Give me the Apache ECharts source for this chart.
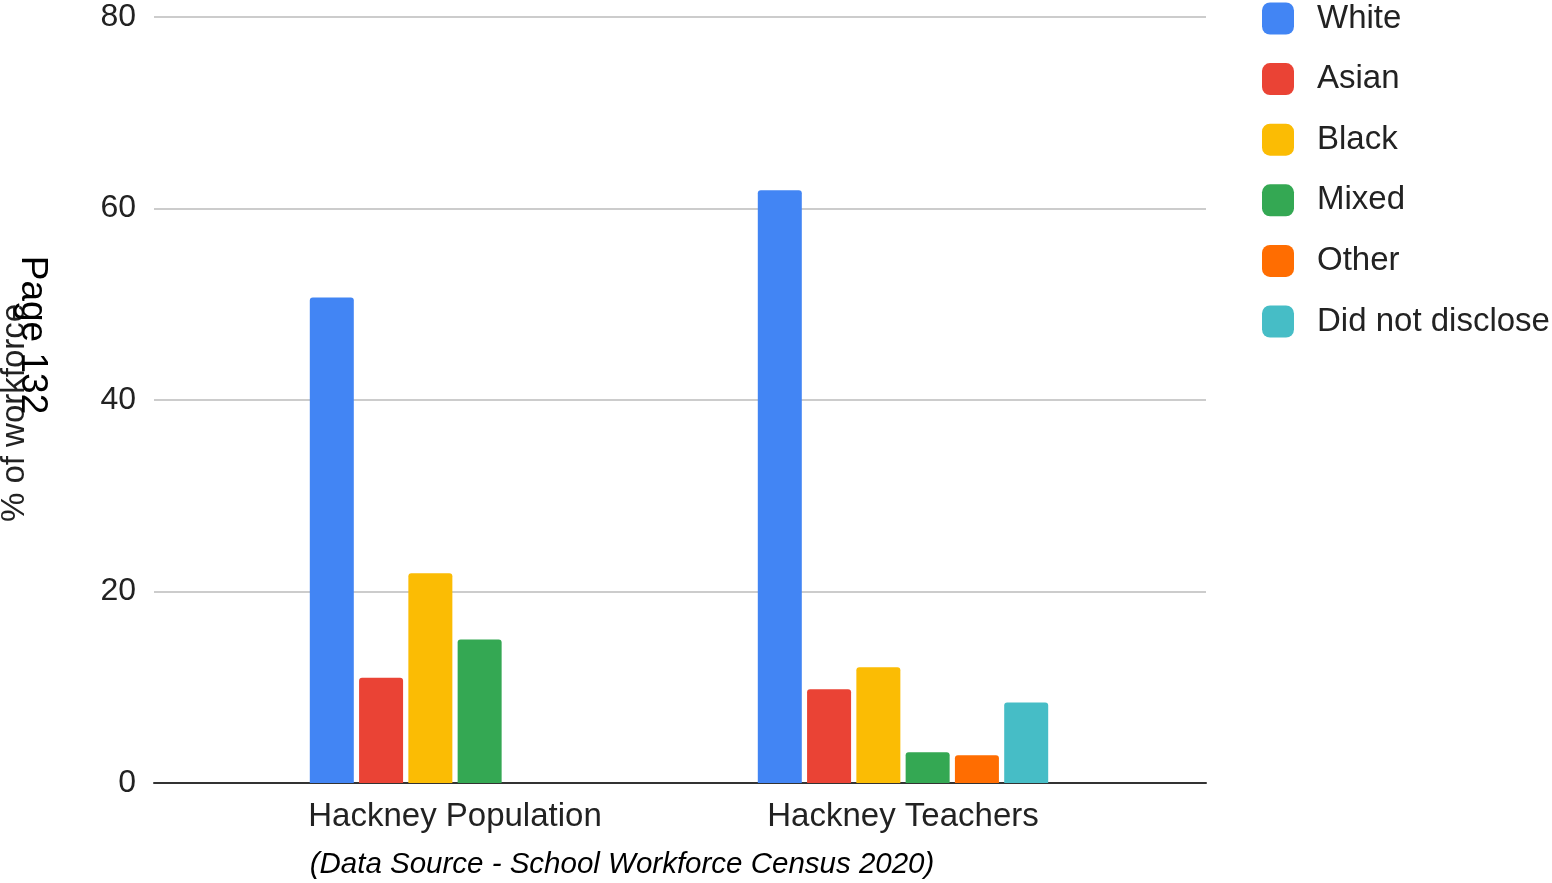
<!DOCTYPE html>
<html>
<head>
<meta charset="utf-8">
<style>
html,body{margin:0;padding:0;background:#fff;}
#chart{width:1552px;height:883px;}
</style>
<script src="https://cdn.jsdelivr.net/npm/echarts@6/dist/echarts.min.js"></script>
</head>
<body>
<div id="chart"></div>
<script>
const categories = ['Hackney Population', 'Hackney Teachers'];
const seriesNames = ['White', 'Asian', 'Black', 'Mixed', 'Other', 'Did not disclose'];
const white = [50.7, 61.9];
const asian = [11.0, 9.8];
const black = [21.9, 12.1];
const mixed = [15.0, 3.2];
const other = [null, 2.9];
const notDisclosed = [null, 8.4];
const yTicks = [0, 20, 40, 60, 80];
const colors = ['#4285F4', '#EA4335', '#FBBC04', '#34A853', '#FF6D01', '#46BDC6'];
const values = [white, asian, black, mixed, other, notDisclosed];

const FONT = '"Liberation Sans", Arial, sans-serif';
const chart = echarts.init(document.getElementById('chart'));

chart.setOption({
  animation: false,
  textStyle: { fontFamily: FONT },
  color: colors,
  legend: {
    orient: 'vertical',
    left: 1262,
    top: 2,
    padding: 0,
    itemWidth: 32,
    itemHeight: 32,
    itemGap: 27.6,
    icon: 'roundRect',
    data: seriesNames,
    selectedMode: false,
    textStyle: { fontSize: 33, lineHeight: 32, color: '#222', fontFamily: FONT, padding: [0, 0, 0, 18] }
  },
  grid: [
    { left: 154, right: 346, top: 17, bottom: 100 },
    { left: 231, right: 425, top: 17, bottom: 100 }
  ],
  xAxis: [
    {
      gridIndex: 0, type: 'category', data: categories,
      axisLine: { show: true, lineStyle: { color: '#333', width: 2 } },
      axisTick: { show: false }, axisLabel: { show: false }, splitLine: { show: false }
    },
    {
      gridIndex: 1, type: 'category', data: categories,
      axisLine: { show: false }, axisTick: { show: false },
      axisLabel: { fontSize: 33, color: '#222', margin: 17, fontFamily: FONT }
    }
  ],
  yAxis: [
    {
      gridIndex: 0, type: 'value', min: yTicks[0], max: yTicks[yTicks.length - 1], interval: 20,
      axisLine: { show: false }, axisTick: { show: false },
      axisLabel: { fontSize: 32, color: '#222', margin: 18, fontFamily: FONT },
      splitLine: { lineStyle: { color: '#ccc', width: 2 } }
    },
    {
      gridIndex: 1, type: 'value', min: yTicks[0], max: yTicks[yTicks.length - 1], interval: 20,
      show: false, splitLine: { show: false }
    }
  ],
  series: seriesNames.map((name, i) => ({
    name: name,
    type: 'bar',
    xAxisIndex: 1,
    yAxisIndex: 1,
    data: values[i],
    barWidth: 44,
    barGap: '12%',
    itemStyle: { color: colors[i], borderRadius: [3, 3, 0, 0] }
  })),
  graphic: [
    {
      type: 'text', x: 15, y: 413, rotation: Math.PI / 2,
      style: { text: '% of workforce', fill: '#222', font: '33px ' + FONT, align: 'center', verticalAlign: 'middle' }
    },
    {
      type: 'text', x: 32, y: 335, rotation: -Math.PI / 2,
      style: { text: 'Page 132', fill: '#000', font: '37px ' + FONT, align: 'center', verticalAlign: 'middle' }
    },
    {
      type: 'text', x: 622, y: 865,
      style: { text: '(Data Source - School Workforce Census 2020)', fill: '#000', font: 'italic 29.5px ' + FONT, align: 'center', verticalAlign: 'middle' }
    }
  ]
});
</script>
</body>
</html>
